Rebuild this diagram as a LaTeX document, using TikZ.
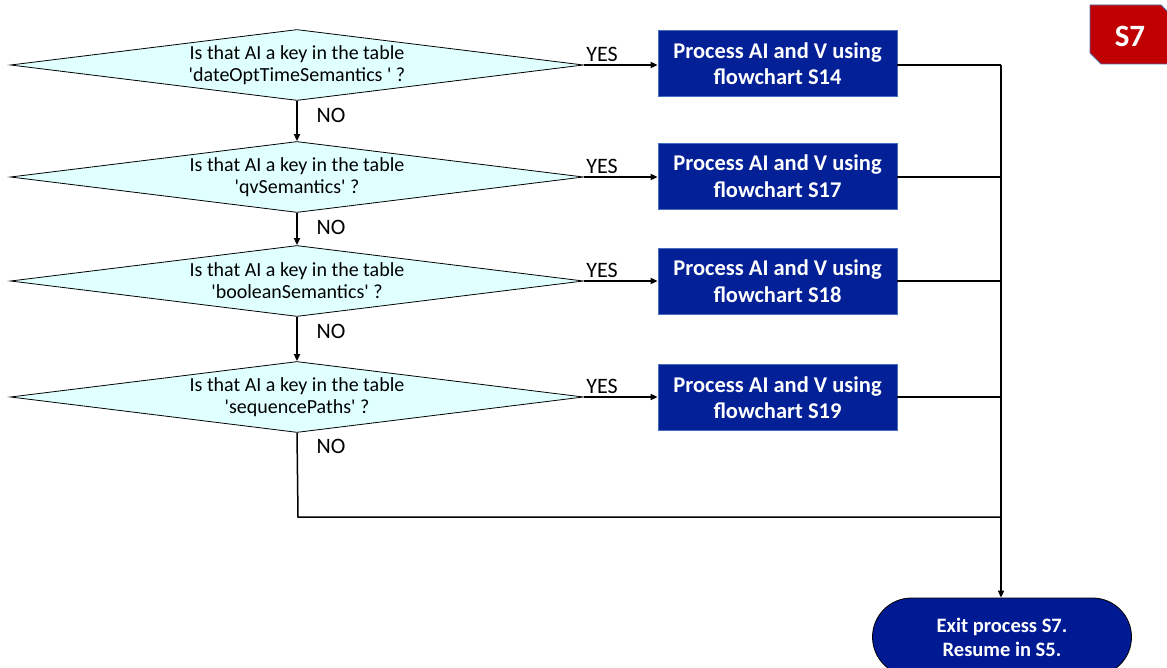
\documentclass[tikz,border=0pt]{standalone}
\usepackage{fontspec}
\setmainfont{Carlito}
\usetikzlibrary{shapes.geometric,arrows.meta}
\definecolor{qfill}{RGB}{224,255,255}
\definecolor{pfill}{RGB}{4,32,150}
\definecolor{pedge}{RGB}{70,110,190}
\definecolor{tfill}{RGB}{0,26,148}
\definecolor{badge}{RGB}{192,0,0}
\definecolor{badgeedge}{RGB}{79,110,170}
\newcommand{\sq}{\textquotesingle}
\tikzset{
  question/.style={diamond, draw=black, line width=0.8pt, fill=qfill, inner sep=0pt,
    minimum width=573pt, minimum height=71pt},
  qtext/.style={align=center, inner sep=0pt, font=\fontsize{20}{22}\selectfont},
  procbox/.style={rectangle, draw=pedge, line width=0.8pt, fill=pfill, text=white,
    minimum width=239pt, minimum height=66pt, align=center,
    font=\fontsize{22.5}{26.5}\selectfont\bfseries},
  terminal/.style={rectangle, rounded corners=39pt, draw=black, line width=0.8pt, fill=tfill,
    text=white, minimum width=259pt, minimum height=78pt, align=center,
    font=\fontsize{20.5}{24}\selectfont\bfseries},
  flow/.style={line width=1.8pt, -{Triangle[length=7pt,width=6pt]}},
  link/.style={line width=1.8pt},
  lbl/.style={font=\fontsize{22}{24}\selectfont, inner sep=0pt},
}
\begin{document}
\begin{tikzpicture}[x=1pt,y=-1pt]
\useasboundingbox (0,0) rectangle (1167,668);

% corner badge
\fill[badge, draw=badgeedge, line width=0.8pt]
  (1090,5) -- (1161,5) -- (1170,14) -- (1170,64) -- (1101,64) -- (1090,53) -- cycle;
\node[text=white, font=\fontsize{31}{34}\selectfont\bfseries] (badgetext) at (1130,36) {S7};

% decisions (empty diamonds, text set on top)
\node[question] (q1) at (297,65)  {};
\node[question] (q2) at (297,177) {};
\node[question] (q3) at (297,281) {};
\node[question] (q4) at (297,397) {};
\node[qtext] (q1t) at (q1.center) {Is that AI a key in the table\\\sq dateOptTimeSemantics \sq\ ?};
\node[qtext] (q2t) at (q2.center) {Is that AI a key in the table\\\sq qvSemantics\sq\ ?};
\node[qtext] (q3t) at (q3.center) {Is that AI a key in the table\\\sq booleanSemantics\sq\ ?};
\node[qtext] (q4t) at (q4.center) {Is that AI a key in the table\\\sq sequencePaths\sq\ ?};

% processes
\node[procbox] (p1) at (777.5,63.5)  {Process AI and V using\\flowchart S14};
\node[procbox] (p2) at (777.5,176)   {Process AI and V using\\flowchart S17};
\node[procbox] (p3) at (777.5,281)   {Process AI and V using\\flowchart S18};
\node[procbox] (p4) at (777.5,397.5) {Process AI and V using\\flowchart S19};

% exit
\node[terminal] (exit) at (1002,637) {Exit process S7.\\Resume in S5.};

% junctions on the collecting line
\coordinate (j1) at (1001,65);
\coordinate (j2) at (1001,177);
\coordinate (j3) at (1001,281);
\coordinate (j4) at (1001,397);
\coordinate (j5) at (1001,517);
\coordinate (c5) at (298,517);

% YES branches
\draw[flow] (q1.east) -- (p1.west |- q1.east);
\draw[flow] (q2.east) -- (p2.west |- q2.east);
\draw[flow] (q3.east) -- (p3.west |- q3.east);
\draw[flow] (q4.east) -- (p4.west |- q4.east);
\node[lbl, anchor=south] (y1) at (602,62)  {YES};
\node[lbl, anchor=south] (y2) at (602,174) {YES};
\node[lbl, anchor=south] (y3) at (602,278) {YES};
\node[lbl, anchor=south] (y4) at (602,394) {YES};

% NO branches
\draw[flow] (q1.south) -- (q2.north);
\draw[flow] (q2.south) -- (q3.north);
\draw[flow] (q3.south) -- (q4.north);
\draw[line width=1.5pt] (q4.south) -- (c5) -- (j5);
\node[lbl] (n1) at (331,115) {NO};
\node[lbl] (n2) at (331,227) {NO};
\node[lbl] (n3) at (331,331) {NO};
\node[lbl] (n4) at (331,446) {NO};

% collecting line to the exit
\draw[link] (p1.east |- j1) -- (j1);
\draw[link] (p2.east |- j2) -- (j2);
\draw[link] (p3.east |- j3) -- (j3);
\draw[link] (p4.east |- j4) -- (j4);
\draw[flow] (j1) -- (exit.north -| j1);
\end{tikzpicture}
\end{document}
